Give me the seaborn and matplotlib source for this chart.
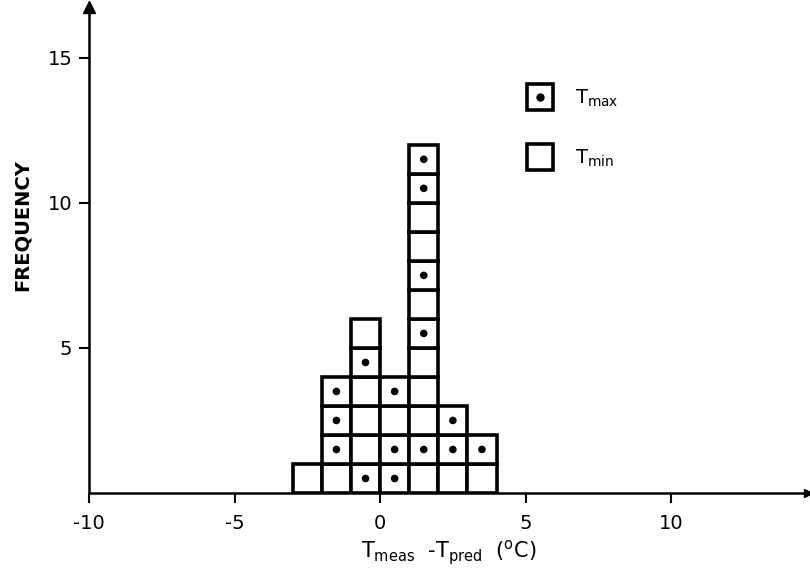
import matplotlib
matplotlib.use("Agg")
import matplotlib.pyplot as plt
from matplotlib.lines import Line2D
from matplotlib.legend_handler import HandlerTuple
import seaborn as sns
import pandas as pd

# ---- data ----
bin_left = [-3, -2, -1, 0, 1, 2, 3]          # left edge of each 1 degC bin
# stacked cells, bottom -> top, in each bin
column_cells = [
    ["min"],
    ["min", "max", "max", "max"],
    ["max", "min", "min", "min", "max", "min"],
    ["max", "max", "min", "max"],
    ["min", "max", "min", "min", "min", "max", "min", "max", "min", "min", "max", "max"],
    ["min", "max", "max"],
    ["min", "max"],
]
x_ticks = [-10, -5, 0, 5, 10]
y_ticks = [5, 10, 15]
legend_labels = [r"T$_{\rm max}$", r"T$_{\rm min}$"]

rows = []
for left, cells in zip(bin_left, column_cells):
    for level, kind in enumerate(cells):
        rows.append({"left": left, "center": left + 0.5, "level": level,
                     "mid": level + 0.5, "kind": kind})
df = pd.DataFrame(rows)

sns.set_style("ticks")
plt.rcParams["font.family"] = ["DejaVu Sans"]
plt.rcParams["axes.unicode_minus"] = False
plt.rcParams["mathtext.default"] = "regular"
plt.rcParams["text.color"] = "black"
plt.rcParams["axes.labelcolor"] = "black"

fig = plt.figure(figsize=(8.1, 5.84), dpi=100)
ax = fig.add_axes([89 / 810, 1 - 493 / 584, 719 / 810, 486 / 584])

# boxes
ax.bar(df["left"], 1, bottom=df["level"], width=1, align="edge",
       facecolor="white", edgecolor="black", linewidth=2.6, zorder=2)
# dots for T_max cells
sns.scatterplot(data=df[df["kind"] == "max"], x="center", y="mid", ax=ax,
                color="black", s=30, edgecolor="none", zorder=3, legend=False)

ax.set_xlim(-10, 14.7)
ax.set_ylim(0, 16.75)
ax.set_xticks(x_ticks)
ax.set_xticklabels([str(v) for v in x_ticks])
ax.set_yticks(y_ticks)
ax.set_yticklabels([str(v) for v in y_ticks])
ax.tick_params(axis="both", direction="out", length=7, width=1.5,
               labelsize=14, color="black", labelcolor="black")
ax.tick_params(axis="x", pad=8)
ax.tick_params(axis="y", pad=5)
sns.despine(ax=ax)
for s in ("left", "bottom"):
    ax.spines[s].set_linewidth(1.8)
    ax.spines[s].set_color("black")

ax.set_xlabel(r"T$_{\rm meas}$  -T$_{\rm pred}$  ($^{\rm o}$C)", fontsize=15,
              labelpad=4, color="black")
ax.set_ylabel("FREQUENCY", fontsize=14, fontweight="bold", color="black")
ax.yaxis.set_label_coords(-0.079, 0.551)

# axis arrow heads
ax.plot([0], [1], marker="^", ms=9, color="black", transform=ax.transAxes,
        clip_on=False, zorder=5)
ax.plot([1], [0], marker=">", ms=6, color="black", transform=ax.transAxes,
        clip_on=False, zorder=5)

# legend
sq_kw = dict(marker="s", ms=19, mfc="white", mec="black", mew=2.6, ls="")
h_max = (Line2D([], [], **sq_kw), Line2D([], [], marker="o", ms=5,
                                          color="black", ls=""))
h_min = Line2D([], [], **sq_kw)
leg = ax.legend([h_max, h_min], legend_labels,
                handler_map={tuple: HandlerTuple(ndivide=1)},
                loc="upper left", bbox_to_anchor=(0.587, 0.87), frameon=False,
                fontsize=14, labelspacing=2.0, handlelength=1.2,
                handletextpad=1.2)
for t in leg.get_texts():
    t.set_color("black")

fig.savefig("out.png", dpi=100)
